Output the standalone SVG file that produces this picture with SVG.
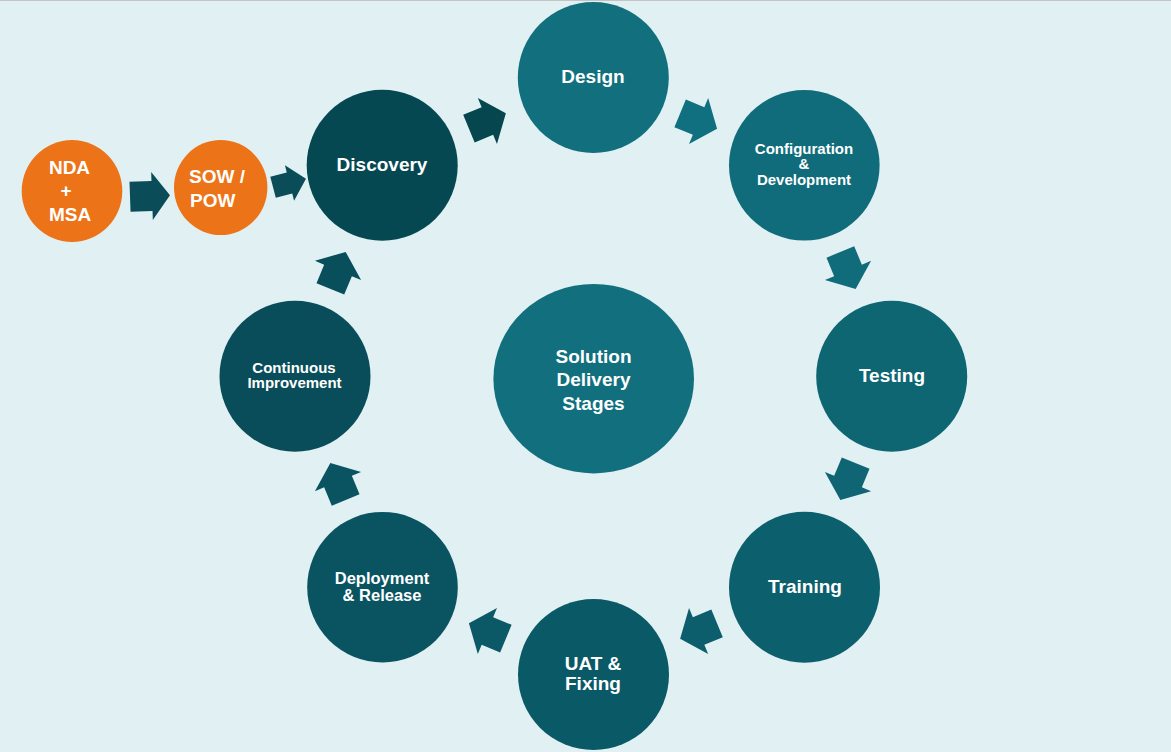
<svg xmlns="http://www.w3.org/2000/svg" width="1171" height="752" viewBox="0 0 1171 752">
<defs>
<style>
.lbl{font-family:"Liberation Sans",Arial,sans-serif;font-weight:bold;fill:#ffffff;text-anchor:middle}
.s19{font-size:19px}
.s16{font-size:16.5px}
.s15{font-size:15px}
</style>
<path id="arw" d="M-20,-15 H0 V-25 L20,0 L0,25 V15 H-20 Z"/>
<path id="arwS" d="M-20,-15 H2 V-24 L20,0 L2,24 V15 H-20 Z"/>
</defs>
<rect x="0" y="0" width="1171" height="752" fill="#E0F0F3"/>
<rect x="0" y="0" width="1171" height="1" fill="#C4C4C4"/>

<g id="connectors">
<use href="#arwS" transform="translate(150,196) rotate(-2)" fill="#0A4C57"/>
<use href="#arw" transform="translate(289.5,183) rotate(-14.5) scale(0.85,0.73)" fill="#0A4C57"/>
<use href="#arw" transform="translate(487.4,121) rotate(-22.5)" fill="#06464F"/>
<use href="#arw" transform="translate(698.6,121) rotate(22.5)" fill="#117080"/>
<use href="#arw" transform="translate(848,270.4) rotate(67.5)" fill="#106C7A"/>
<use href="#arw" transform="translate(848,481.6) rotate(112.5)" fill="#0F6573"/>
<use href="#arw" transform="translate(698.6,631) rotate(157.5)" fill="#0D5E6C"/>
<use href="#arw" transform="translate(487.4,631) rotate(202.5)" fill="#0B5866"/>
<use href="#arw" transform="translate(338,481.6) rotate(247.5)" fill="#0A5462"/>
<use href="#arw" transform="translate(338,270.4) rotate(292.5)" fill="#094F5B"/>
</g>

<g id="nda">
<ellipse cx="72" cy="191" rx="50.3" ry="51" fill="#EC7318"/>
<text class="lbl s19" x="69.5" y="173.5">NDA</text>
<text class="lbl s19" x="66" y="197">+</text>
<text class="lbl s19" x="70" y="220.5">MSA</text>
</g>
<g id="sow">
<ellipse cx="220.7" cy="187.5" rx="46.7" ry="47.5" fill="#EC7318"/>
<text class="lbl s19" x="189" y="182.5" text-anchor="start" style="text-anchor:start">SOW /</text>
<text class="lbl s19" x="190" y="207" style="text-anchor:start">POW</text>
</g>
<g id="discovery">
<circle cx="382.2" cy="165.3" r="75.5" fill="#054852"/>
<text class="lbl s19" x="382" y="171">Discovery</text>
</g>
<g id="design">
<circle cx="593.3" cy="77.5" r="75.5" fill="#116F7E"/>
<text class="lbl s19" x="593" y="83">Design</text>
</g>
<g id="config">
<circle cx="804.3" cy="165.3" r="75.3" fill="#106C7A"/>
<text class="lbl s15" x="804" y="154">Configuration</text>
<text class="lbl s15" x="804" y="169">&amp;</text>
<text class="lbl s15" x="804" y="185">Development</text>
</g>
<g id="testing">
<circle cx="891.7" cy="376.2" r="75.5" fill="#0E6673"/>
<text class="lbl s19" x="892" y="382">Testing</text>
</g>
<g id="training">
<circle cx="804.5" cy="587.2" r="75.5" fill="#0C5F6C"/>
<text class="lbl s19" x="805" y="593">Training</text>
</g>
<g id="uat">
<circle cx="593.5" cy="674.5" r="75.5" fill="#0A5966"/>
<text class="lbl s19" x="593" y="670">UAT &amp;</text>
<text class="lbl s19" x="593" y="689.5">Fixing</text>
</g>
<g id="deployment">
<circle cx="382.5" cy="587.2" r="75.3" fill="#0A5462"/>
<text class="lbl s16" x="382" y="584">Deployment</text>
<text class="lbl s16" x="382" y="600.5">&amp; Release</text>
</g>
<g id="continuous">
<circle cx="295" cy="376.2" r="75.5" fill="#084D59"/>
<text class="lbl s15" x="294" y="372.5">Continuous</text>
<text class="lbl s15" x="294.5" y="387.5">Improvement</text>
</g>
<g id="center">
<ellipse cx="593.7" cy="378.7" rx="100.3" ry="94.7" fill="#116F7E"/>
<text class="lbl s19" x="593.5" y="362.5">Solution</text>
<text class="lbl s19" x="593.5" y="386">Delivery</text>
<text class="lbl s19" x="593.5" y="409.5">Stages</text>
</g>
</svg>
